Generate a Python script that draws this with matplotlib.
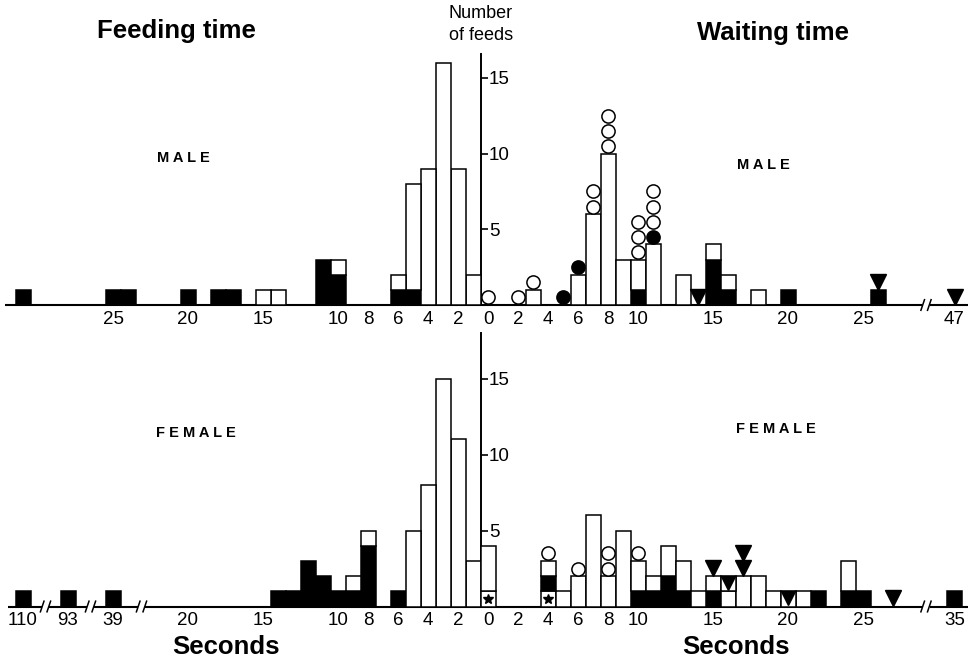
import matplotlib
matplotlib.use("Agg")
import matplotlib.pyplot as plt

plt.rcParams['font.family'] = ['Liberation Sans', 'DejaVu Sans']

# ---- data (seconds -> counts) ----
# top panel = MALE, bottom panel = FEMALE
# feeding time (left side, axis runs right-to-left)
top_feed_t = [1, 2, 3, 4, 5, 6, 10, 11, 14, 15, 17, 18, 20, 24, 25, 31]
top_feed_black = [0, 0, 0, 0, 1, 1, 2, 3, 0, 0, 1, 1, 1, 1, 1, 1]
top_feed_white = [2, 9, 16, 9, 7, 1, 1, 0, 1, 1, 0, 0, 0, 0, 0, 0]

# waiting time (right side)
top_wait_t = [3, 6, 7, 8, 9, 10, 11, 13, 15, 16, 18, 20, 26]
top_wait_black = [0, 0, 0, 0, 0, 1, 0, 0, 3, 1, 0, 1, 1]
top_wait_white = [1, 2, 6, 10, 3, 2, 4, 2, 1, 1, 1, 0, 0]
# symbols stacked above the bars: o open circle, f filled circle, v triangle
top_wait_marks = {0: "o", 2: "o", 3: "o", 5: "f", 6: "f", 7: "oo", 8: "ooo",
                  10: "ooo", 11: "fooo", 14: "v", 26: "v", 47: "v"}

bot_feed_t = [1, 2, 3, 4, 5, 6, 8, 9, 10, 11, 12, 13, 14, 39, 93, 110]
bot_feed_black = [0, 0, 0, 0, 0, 1, 4, 1, 1, 2, 3, 1, 1, 1, 1, 1]
bot_feed_white = [3, 11, 15, 8, 5, 0, 1, 1, 0, 0, 0, 0, 0, 0, 0, 0]

bot_wait_t = [0, 4, 5, 6, 7, 8, 9, 10, 11, 12, 13, 14, 15, 16, 17, 18, 19, 20, 21, 22, 24, 25, 35]
bot_wait_star = [1, 1, 0, 0, 0, 0, 0, 0, 0, 0, 0, 0, 0, 0, 0, 0, 0, 0, 0, 0, 0, 0, 0]
bot_wait_black = [0, 1, 0, 0, 0, 0, 0, 1, 1, 2, 1, 0, 1, 0, 0, 0, 0, 0, 0, 1, 1, 1, 1]
bot_wait_white = [3, 1, 1, 2, 6, 2, 5, 2, 1, 2, 2, 1, 1, 1, 2, 2, 1, 0, 1, 0, 2, 0, 0]
bot_wait_boxtri = [0, 0, 0, 0, 0, 0, 0, 0, 0, 0, 0, 0, 0, 1, 0, 0, 0, 1, 0, 0, 0, 0, 0]
bot_wait_marks = {4: "o", 6: "o", 8: "oo", 10: "o", 15: "v", 17: "vv", 27: "v"}

# values shown past an axis break -> where they sit on the axis
top_far = {47: 31.1}
bot_far = {35: 31.1, 39: -25, 93: -28, 110: -31}

top_ticks_feed = [25, 20, 15, 10, 8, 6, 4, 2]
bot_ticks_feed = [110, 93, 39, 20, 15, 10, 8, 6, 4, 2]
top_ticks_wait = [0, 2, 4, 6, 8, 10, 15, 20, 25, 47]
bot_ticks_wait = [0, 2, 4, 6, 8, 10, 15, 20, 25, 35]

W, H = 974, 663
fig = plt.figure(figsize=(W / 100, H / 100), dpi=100)

LW = 1.1
FS = 13.5


def pos(t, side, far):
    if t in far:
        return far[t]
    return side * t


def stack(ax, xs, layers):
    bottom = [0] * len(xs)
    for vals, kind in layers:
        for i, v in enumerate(vals):
            if v == 0:
                continue
            fc = 'black' if kind == 'black' else 'white'
            ax.bar(xs[i], v, width=1, bottom=bottom[i], color=fc,
                   edgecolor='black', linewidth=LW, zorder=3)
            if kind == 'star':
                ax.plot(xs[i], bottom[i] + 0.5, marker='*', ms=7, color='black', zorder=4)
            if kind == 'boxtri':
                ax.plot(xs[i], bottom[i] + 0.55, marker='v', ms=10.5, color='black', zorder=4)
            bottom[i] += v
    return bottom


def marks(ax, mdict, tops, far):
    for t, seq in mdict.items():
        x = pos(t, 1, far)
        base = tops.get(t, 0)
        for k, m in enumerate(seq):
            y = base + 0.5 + k
            if m == 'o':
                ax.plot(x, y, marker='o', ms=9.5, mfc='white', mec='black', mew=LW, zorder=5, clip_on=False)
            elif m == 'f':
                ax.plot(x, y, marker='o', ms=9.5, mfc='black', mec='black', mew=LW, zorder=5, clip_on=False)
            else:
                ax.plot(x, y + 0.05, marker='v', ms=11, color='black', zorder=5, clip_on=False)


def baseline(ax, left, right, breaks):
    edges = [left]
    for b in breaks:
        edges += [b - 0.25, b + 0.25]
    edges.append(right)
    for a, b in zip(edges[::2], edges[1::2]):
        ax.plot([a, b], [0, 0], color='black', lw=1.5, solid_capstyle='butt', zorder=2, clip_on=False)
    for b in breaks:
        for dx in (-0.22, 0.22):
            ax.plot([b + dx - 0.12, b + dx + 0.12], [-0.35, 0.35], color='black', lw=1.1, clip_on=False)


def panel(ax, ymax_axis, far, feed_ticks, wait_ticks):
    ax.set_xlim(-488 / 15, (W - 488) / 15)
    for s in ['top', 'bottom', 'left']:
        ax.spines[s].set_visible(False)
    ax.spines['right'].set_position(('data', -0.5))
    ax.spines['right'].set_bounds(0, ymax_axis)
    ax.spines['right'].set_linewidth(1.4)
    ax.yaxis.set_ticks_position('right')
    ax.set_yticks([5, 10, 15])
    ax.tick_params(axis='y', direction='out', length=5, width=1.2, pad=1, labelsize=FS)
    xt = [pos(t, -1, far) for t in feed_ticks] + [pos(t, 1, far) for t in wait_ticks]
    lab = [str(t) for t in feed_ticks + wait_ticks]
    ax.set_xticks(xt, lab)
    ax.tick_params(axis='x', length=0, pad=4, labelsize=FS)
    ax.patch.set_visible(False)


# ---- top panel (male) ----
ax1 = fig.add_axes([0, (H - 305) / H, 1, 18 * 15.15 / H])
ax1.set_ylim(0, 18)
panel(ax1, 16.6, top_far, top_ticks_feed, top_ticks_wait)
xs = [pos(t, -1, top_far) for t in top_feed_t]
stack(ax1, xs, [(top_feed_black, 'black'), (top_feed_white, 'white')])
xs = [pos(t, 1, top_far) for t in top_wait_t]
tops = stack(ax1, xs, [(top_wait_black, 'black'), (top_wait_white, 'white')])
marks(ax1, top_wait_marks, dict(zip(top_wait_t, tops)), top_far)
baseline(ax1, -32.2, 32.0, [29.2])

# ---- bottom panel (female) ----
ax2 = fig.add_axes([0, (H - 606.5) / H, 1, 19 * 15.2 / H])
ax2.set_ylim(0, 19)
panel(ax2, 18.0, bot_far, bot_ticks_feed, bot_ticks_wait)
xs = [pos(t, -1, bot_far) for t in bot_feed_t]
stack(ax2, xs, [(bot_feed_black, 'black'), (bot_feed_white, 'white')])
xs = [pos(t, 1, bot_far) for t in bot_wait_t]
tops = stack(ax2, xs, [(bot_wait_star, 'star'), (bot_wait_black, 'black'),
                       (bot_wait_white, 'white'), (bot_wait_boxtri, 'boxtri')])
marks(ax2, bot_wait_marks, dict(zip(bot_wait_t, tops)), bot_far)
baseline(ax2, -32.0, 32.0, [-29.5, -26.5, -23.1, 29.2])


# ---- labels ----
def ftext(x, y, s, **kw):
    fig.text(x / W, 1 - y / H, s, ha='center', va='center', **kw)


ftext(176, 31, "Feeding time", fontsize=18.5, fontweight='bold')
ftext(773, 33, "Waiting time", fontsize=18.5, fontweight='bold')
ftext(481, 14, "Number", fontsize=13)
ftext(481, 36, "of feeds", fontsize=13)
ftext(183, 158, "M A L E", fontsize=10.5, fontweight='bold')
ftext(763, 165, "M A L E", fontsize=10.5, fontweight='bold')
ftext(196, 433, "F E M A L E", fontsize=10.5, fontweight='bold')
ftext(776, 429, "F E M A L E", fontsize=10.5, fontweight='bold')
ftext(226, 647, "Seconds", fontsize=18.5, fontweight='bold')
ftext(736, 647, "Seconds", fontsize=18.5, fontweight='bold')

fig.savefig("out.png", dpi=100)
